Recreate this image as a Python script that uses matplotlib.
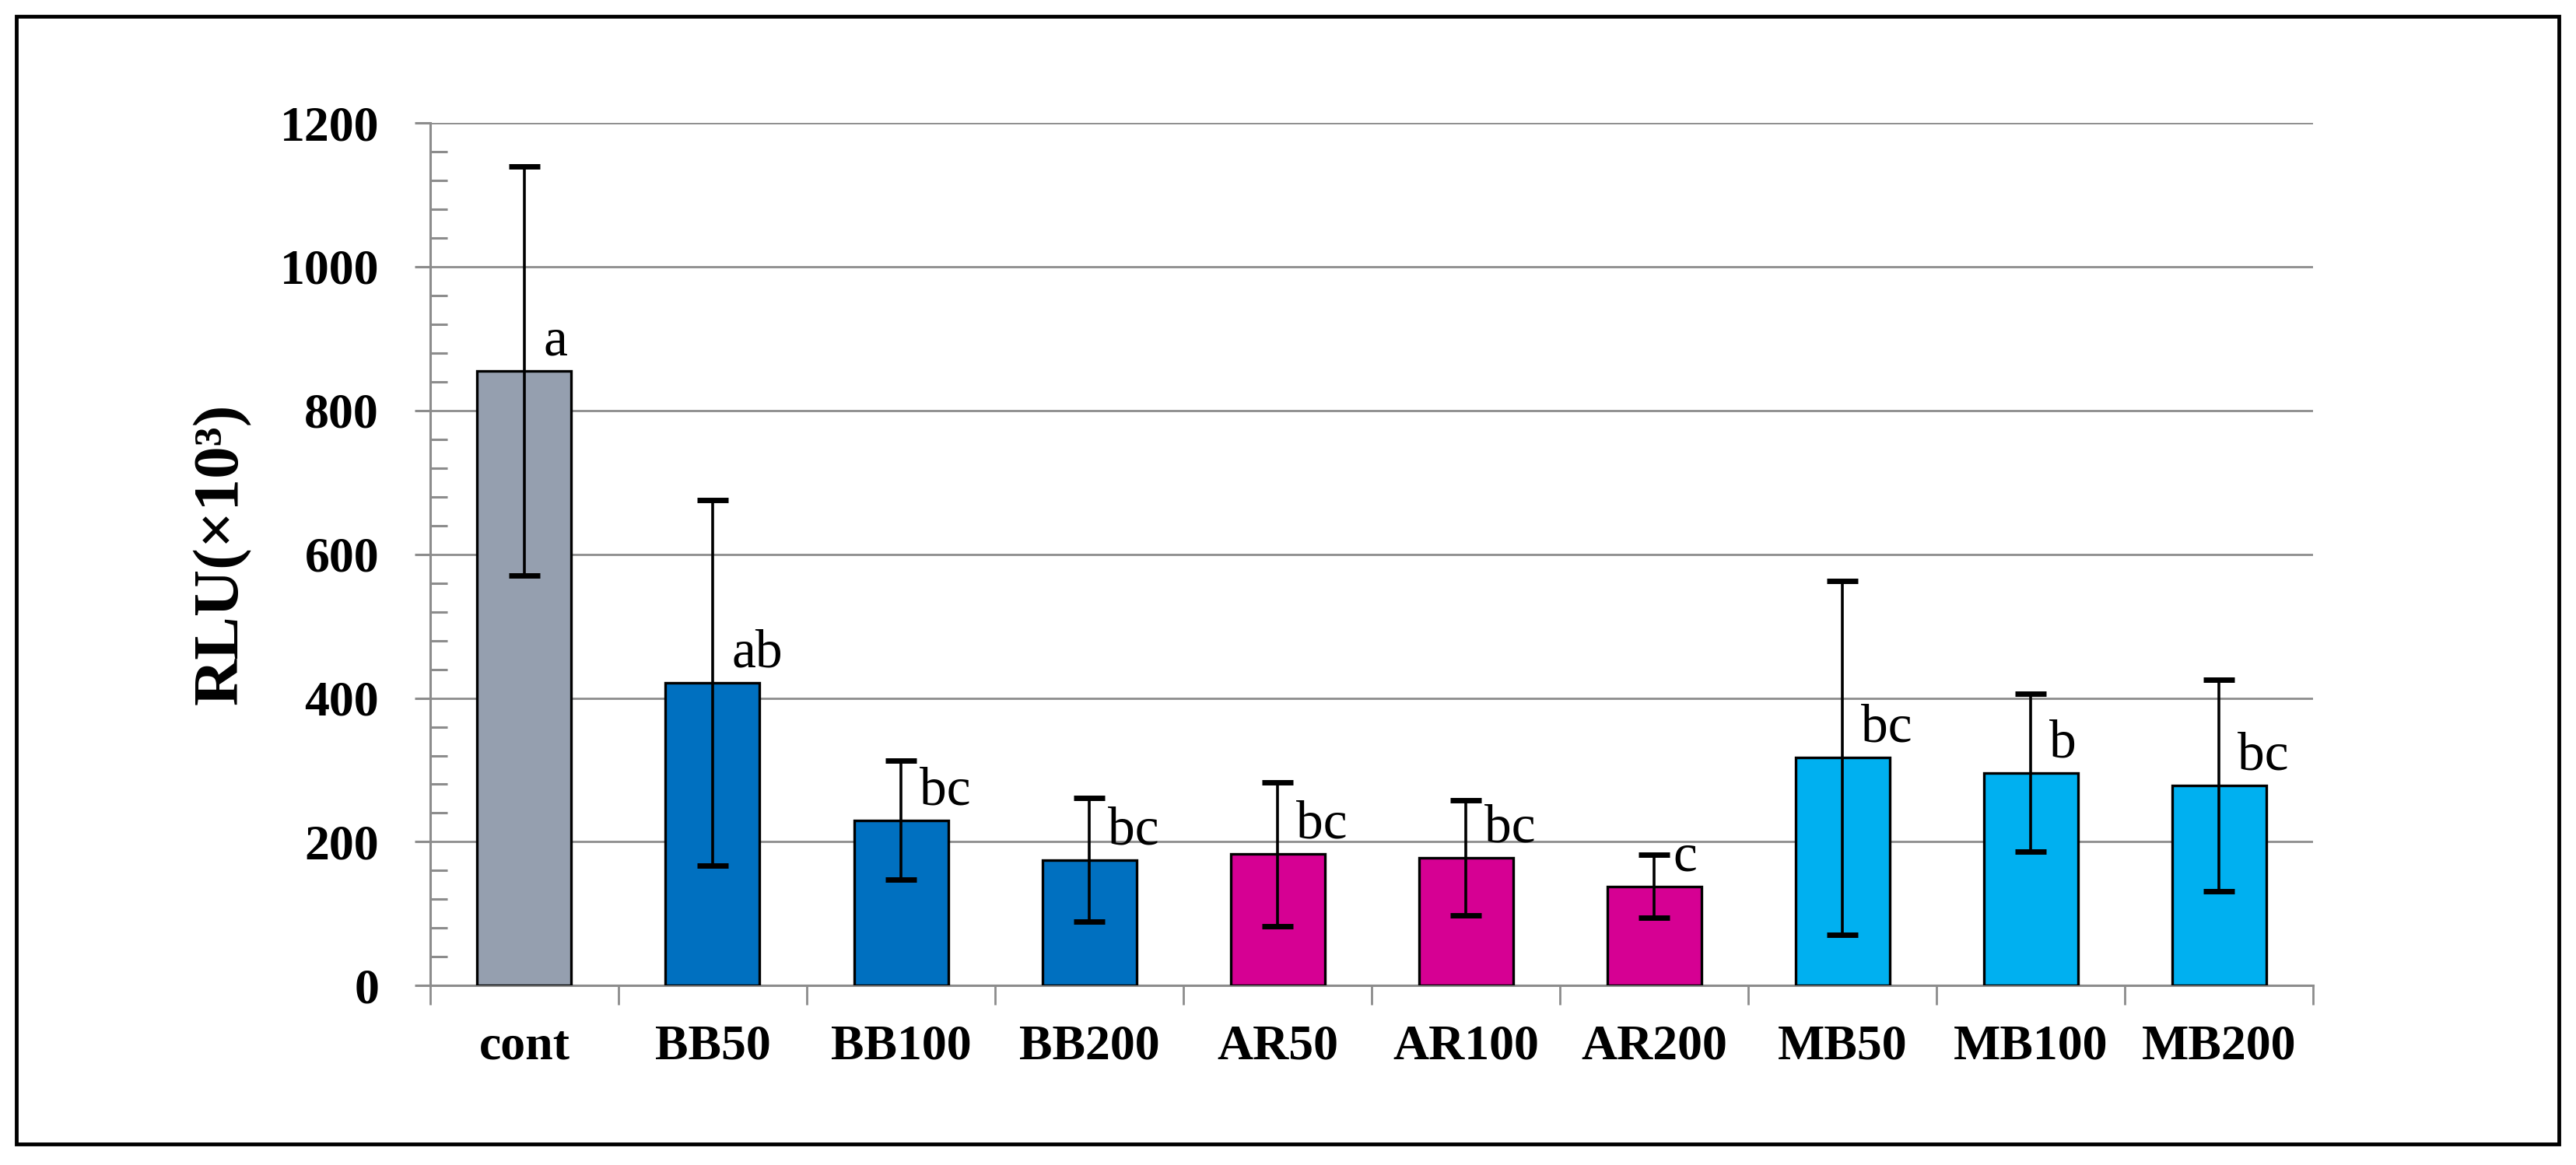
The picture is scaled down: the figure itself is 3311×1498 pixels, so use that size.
import matplotlib
matplotlib.use("Agg")
import matplotlib.pyplot as plt
from matplotlib.patches import Rectangle
from matplotlib.ticker import MultipleLocator

# data
groups = ["cont", "BB50", "BB100", "BB200", "AR50", "AR100", "AR200", "MB50", "MB100", "MB200"]
means = [855, 421, 230, 175, 183, 178, 138, 317, 296, 278]
errors = [285, 254, 83, 86, 100, 80, 44, 246, 110, 147]
letters = ["a", "ab", "bc", "bc", "bc", "bc", "c", "bc", "b", "bc"]
colors = ["#959FAF", "#0070C0", "#0070C0", "#0070C0",
          "#D60093", "#D60093", "#D60093",
          "#00B0F0", "#00B0F0", "#00B0F0"]

plt.rcParams["font.family"] = ["Liberation Serif", "DejaVu Serif"]
grid_col = "#8C8C8C"

fig = plt.figure(figsize=(33.11, 14.98), dpi=100)
ax = fig.add_axes([0.167, 0.154, 0.731, 0.7405])

x = list(range(len(groups)))
ax.bar(x, means, width=0.5, color=colors, edgecolor="black", linewidth=2.4, zorder=3)
ax.errorbar(x, means, yerr=errors, fmt="none", ecolor="black", elinewidth=2.6,
            capsize=14.4, capthick=5, zorder=4)

# significance letters, just right of the error line
for xi, m, t in zip(x, means, letters):
    ax.text(xi + 0.1, m + 22, t, fontsize=50, ha="left", va="baseline", zorder=5)

ax.set_xlim(-0.5, len(groups) - 0.5)
ax.set_ylim(0, 1200)
ax.yaxis.set_major_locator(MultipleLocator(200))
ax.yaxis.set_minor_locator(MultipleLocator(40))
ax.grid(axis="y", color=grid_col, linewidth=2.0, zorder=0)
ax.set_axisbelow(True)

for s in ["top", "right"]:
    ax.spines[s].set_visible(False)
for s in ["left", "bottom"]:
    ax.spines[s].set_color(grid_col)
    ax.spines[s].set_linewidth(2.2)

# x ticks sit between the categories, labels in the middle
ax.set_xticks([i - 0.5 for i in range(len(groups) + 1)])
ax.set_xticklabels([])
ax.set_xticks(x, minor=True)
ax.set_xticklabels(groups, minor=True, fontsize=46, fontweight="bold")
ax.tick_params(axis="x", which="major", direction="out", length=18, width=2, color=grid_col)
ax.tick_params(axis="x", which="minor", length=0, pad=36)

ax.tick_params(axis="y", which="major", direction="out", length=14.4, width=2.2,
               color=grid_col, labelsize=46, pad=33)
ax.tick_params(axis="y", which="minor", direction="in", length=16, width=2.2, color=grid_col)
for lab in ax.get_yticklabels():
    lab.set_fontweight("bold")

ax.set_ylabel("RLU(×10³)", fontsize=60, fontweight="bold")
ax.yaxis.set_label_coords(-0.095, 0.5)

# outer frame
fig.patches.append(Rectangle((21 / 3311, 27 / 1498), 3268 / 3311, 1450 / 1498,
                             transform=fig.transFigure, fill=False,
                             edgecolor="black", linewidth=3.5))

fig.savefig("out.png", dpi=100)
